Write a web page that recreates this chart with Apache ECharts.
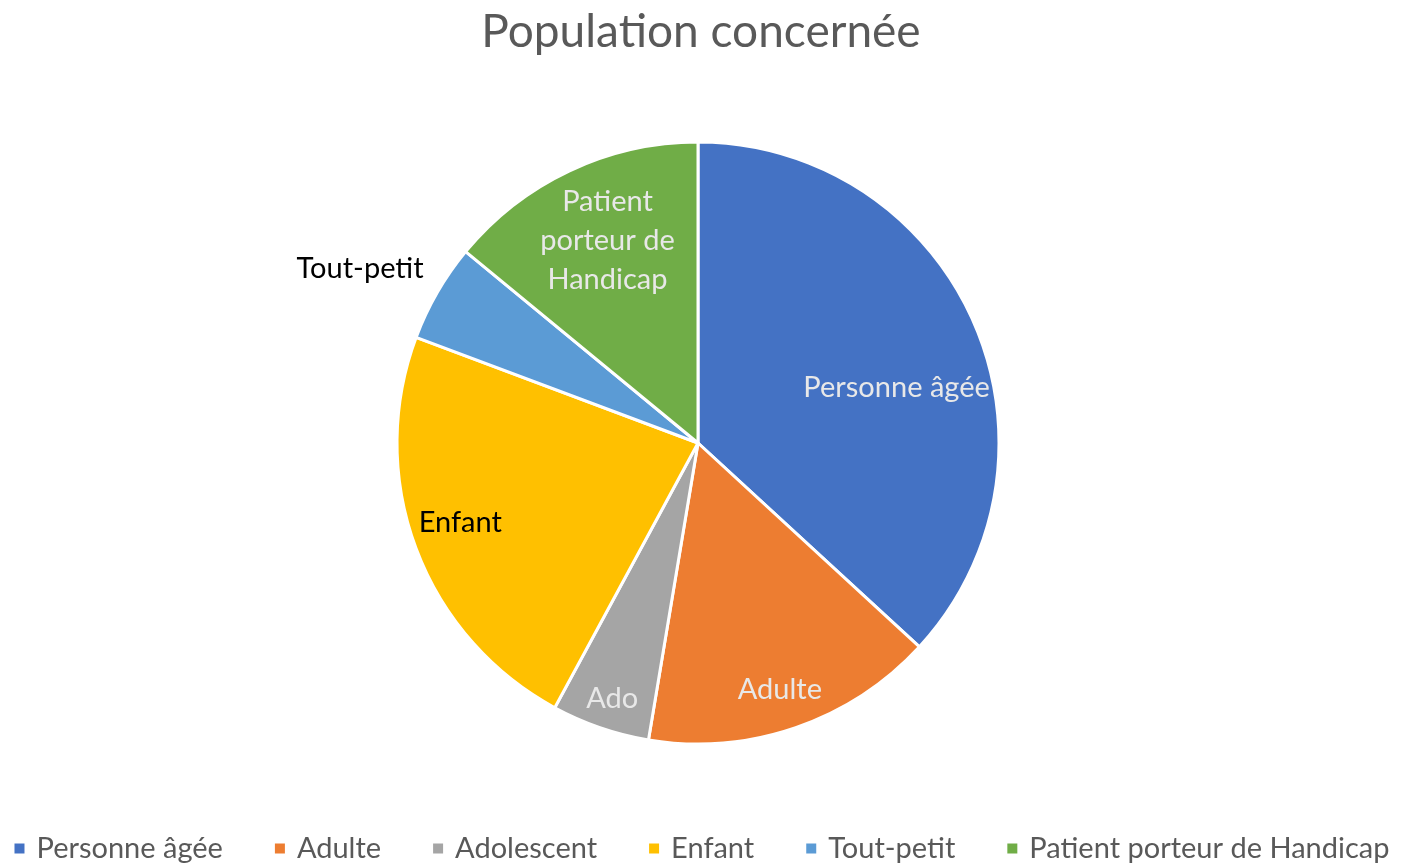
<!DOCTYPE html>
<html>
<head>
<meta charset="utf-8">
<script src="https://cdn.jsdelivr.net/npm/echarts@6/dist/echarts.min.js"></script>
<style>
  html, body { margin: 0; padding: 0; background: #fff; }
  #chart { width: 1402px; height: 865px; }
</style>
</head>
<body>
<div id="chart"></div>
<script>
    // données
    var categories = ['Personne âgée', 'Adulte', 'Adolescent', 'Enfant', 'Tout-petit', 'Patient porteur de Handicap'];
    var sliceLabels = ['Personne âgée', 'Adulte', 'Ado', 'Enfant', 'Tout-petit', 'Patient\nporteur de\nHandicap'];
    var values = [21, 9, 3, 13, 3, 8];
    var colors = ['#4472C4', '#ED7D31', '#A5A5A5', '#FFC000', '#5B9BD5', '#70AD47'];

    // position des étiquettes (style Excel "ajustement optimal")
    var labelOffsets = [[58, 6], [32, 101], [-36, 110], [-94, 26], [-205, -98], [-25, -64]];
    var labelColors = ['#e8e8e8', '#e8e8e8', '#e8e8e8', '#000', '#000', '#e8e8e8'];

    var myChart = echarts.init(document.getElementById('chart'));

    var pieData = categories.map(function (c, i) {
        return {
            name: c,
            value: values[i],
            itemStyle: { color: colors[i] },
            label: { offset: labelOffsets[i], color: labelColors[i] }
        };
    });

    var option = {
        animation: false,
        textStyle: { fontFamily: 'Lato' },
        title: {
            text: 'Population concernée',
            left: 'center',
            top: 4,
            textStyle: { fontFamily: 'Lato', fontSize: 46, fontWeight: 'normal', color: '#595959' }
        },
        legend: {
            bottom: -3,
            left: 'center',
            icon: 'rect',
            itemWidth: 12,
            itemHeight: 12,
            itemGap: 50,
            textStyle: { fontFamily: 'Lato', fontSize: 29, color: '#595959', padding: [0, 0, 0, 6] },
            data: categories
        },
        series: [
            {
                type: 'pie',
                center: ['698px', '443px'],
                radius: 301,
                startAngle: 90,
                clockwise: true,
                itemStyle: { borderColor: '#fff', borderWidth: 3 },
                label: {
                    show: true,
                    position: 'inside',
                    fontFamily: 'Lato',
                    fontSize: 29,
                    lineHeight: 39,
                    formatter: function (p) { return sliceLabels[p.dataIndex]; }
                },
                labelLine: { show: false },
                emphasis: { disabled: true },
                data: pieData
            }
        ]
    };

    myChart.setOption(option);
</script>
</body>
</html>
